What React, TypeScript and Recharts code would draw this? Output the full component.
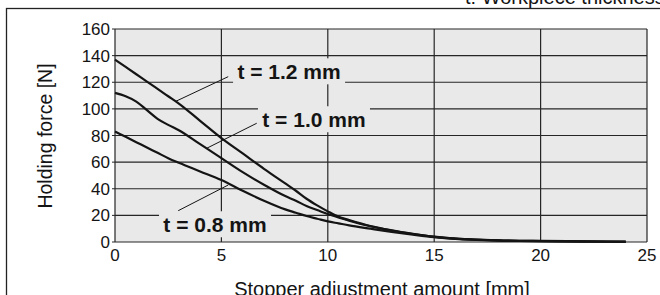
import React from 'react'
import {
  LineChart,
  Line,
  XAxis,
  YAxis,
  CartesianGrid,
  ReferenceLine,
  ReferenceDot,
} from 'recharts'

// stopper adjustment amount [mm]
const adjustment = [0, 0.5, 1, 1.5, 2, 2.5, 3, 4, 5, 6, 7, 8, 8.5, 9, 9.5, 10, 10.5, 11, 12, 13, 14, 15, 16, 17, 18, 20, 22, 24]
// holding force [N] per workpiece thickness
const force12 = [137, 131.5, 126, 120.5, 115, 109.5, 104, 91, 78, 66.5, 55, 44, 38.5, 32.5, 27.5, 23, 19, 16.5, 12, 8.8, 6.2, 4, 2.6, 1.8, 1.3, 0.8, 0.5, 0.3]
const force10 = [112, 109.5, 105.5, 99, 92.5, 88, 84, 73.5, 63, 52.5, 43, 34.5, 31, 27, 24, 21, 18.5, 16, 11.8, 8.6, 6, 3.9, 2.5, 1.7, 1.2, 0.7, 0.4, 0.2]
const force08 = [83, 79, 75, 71, 67, 63, 59.5, 53, 46.5, 38.5, 31, 24.5, 22, 19.5, 17.5, 15.5, 14, 12.5, 10, 7.6, 5.5, 3.6, 2.3, 1.6, 1.1, 0.6, 0.3, 0.1]

const xTicks = [0, 5, 10, 15, 20, 25]
const yTicks = [0, 20, 40, 60, 80, 100, 120, 140, 160]

// callout labels (anchor = text centre / baseline) and leader lines
const callouts = [
  { text: 't = 1.2 mm', x: 8.18, y: 122.2, from: { x: 5.32, y: 124.2 }, to: { x: 2.82, y: 105.4 } },
  { text: 't = 1.0 mm', x: 9.35, y: 86.2, from: { x: 6.66, y: 89.2 }, to: { x: 4.31, y: 70.4 } },
  { text: 't = 0.8 mm', x: 4.7, y: 7.3, from: { x: 2.97, y: 23.5 }, to: { x: 5.32, y: 42.8 } },
]

const data = adjustment.map((x, i) => ({ x, t12: force12[i], t10: force10[i], t08: force08[i] }))

const FONT = '"Liberation Sans", Arial, Helvetica, sans-serif'
const PLOT_BG = '#e8e9e8'
const INK = '#141414'

function CalloutLabel({ cx, cy, text }: { cx?: number; cy?: number; text: string }) {
  if (cx == null || cy == null) return null
  const w = 112
  return (
    <g>
      <rect x={cx - w / 2} y={cy - 21} width={w} height={26} fill={PLOT_BG} />
      <text x={cx} y={cy} textAnchor="middle" fontFamily={FONT} fontSize={21} fontWeight="bold" fill={INK}>
        {text}
      </text>
    </g>
  )
}

export default function App() {
  return (
    <div style={{ position: 'absolute', left: 0, top: 0, width: 660, height: 295, background: '#fff', overflow: 'hidden' }}>
      <svg width={660} height={295} style={{ position: 'absolute', left: 0, top: 0 }}>
        <rect x={6.5} y={8.5} width={720} height={400} fill="none" stroke="#222" strokeWidth={1.3} />
        <text x={465} y={3.5} fontFamily={FONT} fontSize={20} fill={INK}>
          t: Workpiece thickness
        </text>
        <text
          x={44.5}
          y={136}
          transform="rotate(-90 44.5 136)"
          textAnchor="middle"
          dominantBaseline="central"
          fontFamily={FONT}
          fontSize={19.5}
          fill={INK}
        >
          Holding force [N]
        </text>
        <text x={382} y={296} textAnchor="middle" fontFamily={FONT} fontSize={20} fill={INK}>
          Stopper adjustment amount [mm]
        </text>
      </svg>
      <div style={{ position: 'absolute', left: 0, top: 0 }}>
        <LineChart width={660} height={295} data={data} margin={{ top: 29, right: 13, bottom: 23, left: 0 }}>
          <CartesianGrid fill={PLOT_BG} fillOpacity={1} stroke="#262626" strokeWidth={1.2} />
          <XAxis
            dataKey="x"
            type="number"
            domain={[0, 25]}
            ticks={xTicks}
            height={30}
            axisLine={false}
            tickLine={false}
            tickSize={0}
            tickMargin={7}
            tick={{ fontSize: 17, fill: INK, fontFamily: FONT }}
          />
          <YAxis
            type="number"
            domain={[0, 160]}
            ticks={yTicks}
            width={115}
            axisLine={false}
            tickLine={{ stroke: '#262626' }}
            tickSize={3}
            tickMargin={2}
            tick={{ fontSize: 17, fill: INK, fontFamily: FONT }}
          />
          <Line type="monotone" dataKey="t12" stroke={INK} strokeWidth={2.2} dot={false} isAnimationActive={false} />
          <Line type="monotone" dataKey="t10" stroke={INK} strokeWidth={2.2} dot={false} isAnimationActive={false} />
          <Line type="monotone" dataKey="t08" stroke={INK} strokeWidth={2.2} dot={false} isAnimationActive={false} />
          {callouts.map((c) => (
            <ReferenceLine key={c.text + '-line'} segment={[c.from, c.to]} stroke={INK} strokeWidth={1} />
          ))}
          {callouts.map((c) => (
            <ReferenceDot key={c.text} x={c.x} y={c.y} r={0} shape={(p: any) => <CalloutLabel cx={p.cx} cy={p.cy} text={c.text} />} />
          ))}
        </LineChart>
      </div>
    </div>
  )
}
